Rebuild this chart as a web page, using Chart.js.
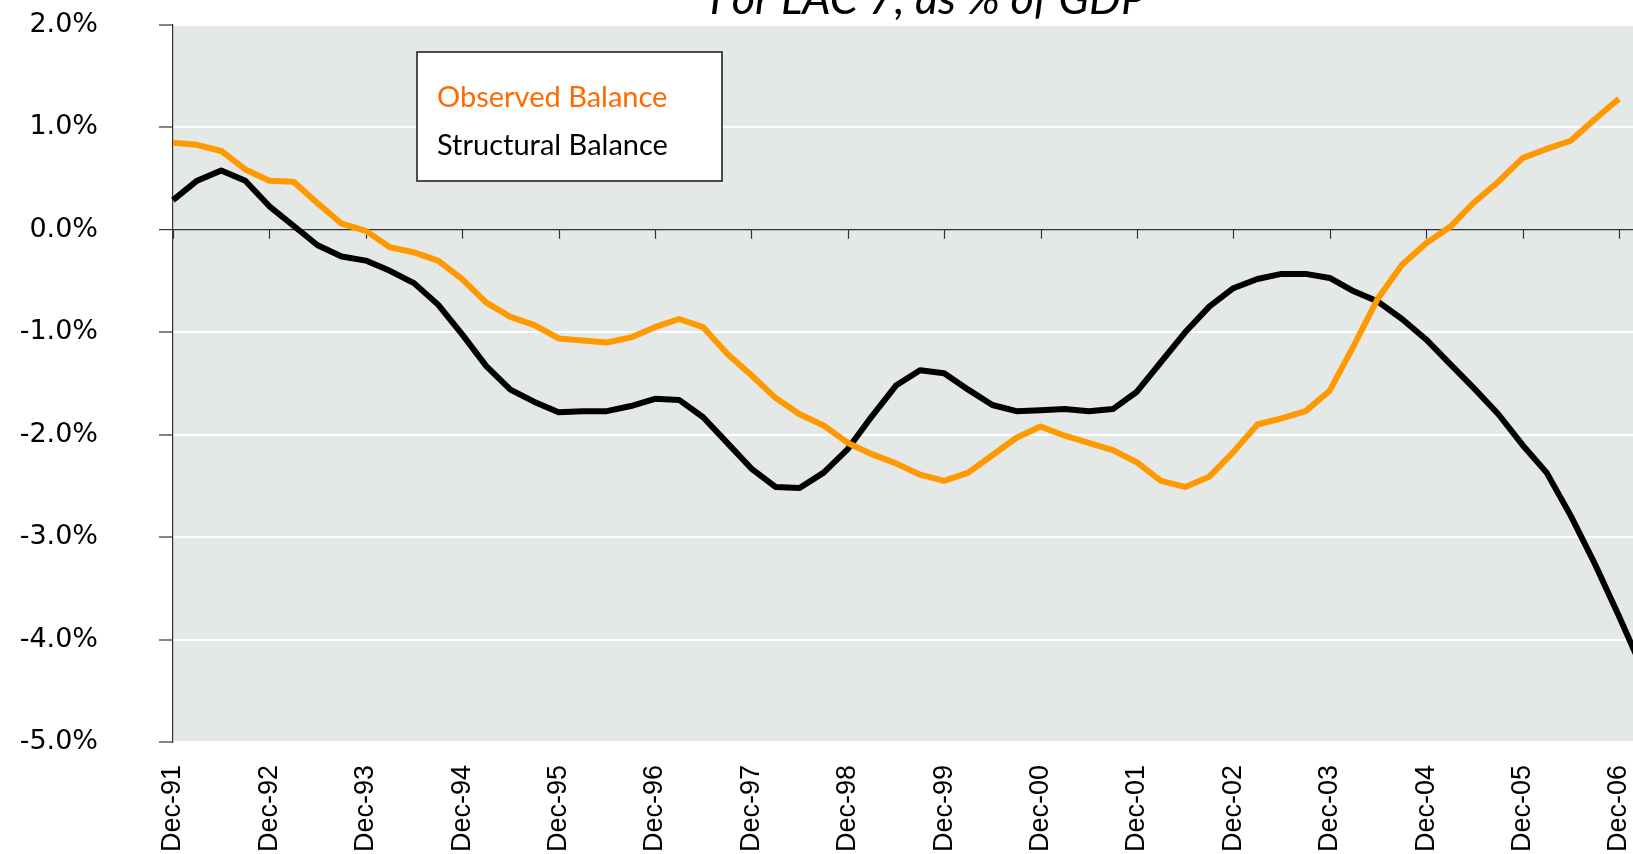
<!DOCTYPE html>
<html>
<head>
<meta charset="utf-8">
<script src="https://cdn.jsdelivr.net/npm/chart.js@4/dist/chart.umd.min.js"></script>
<style>
  html, body { margin: 0; padding: 0; background: #ffffff; overflow: hidden; width: 1633px; height: 854px; }
  #wrap { position: absolute; left: 0; top: 0; width: 1643px; height: 854px; }
</style>
</head>
<body>
<div id="wrap"><canvas id="c"></canvas></div>
<script>
// ---- data ----
const quarters = ['Dec-91','Mar-92','Jun-92','Sep-92','Dec-92','Mar-93','Jun-93','Sep-93','Dec-93','Mar-94','Jun-94','Sep-94','Dec-94','Mar-95','Jun-95','Sep-95','Dec-95','Mar-96','Jun-96','Sep-96','Dec-96','Mar-97','Jun-97','Sep-97','Dec-97','Mar-98','Jun-98','Sep-98','Dec-98','Mar-99','Jun-99','Sep-99','Dec-99','Mar-00','Jun-00','Sep-00','Dec-00','Mar-01','Jun-01','Sep-01','Dec-01','Mar-02','Jun-02','Sep-02','Dec-02','Mar-03','Jun-03','Sep-03','Dec-03','Mar-04','Jun-04','Sep-04','Dec-04','Mar-05','Jun-05','Sep-05','Dec-05','Mar-06','Jun-06','Sep-06','Dec-06','Mar-07'];

const observedBalance = [0.85,0.83,0.77,0.59,0.48,0.47,0.26,0.06,-0.01,-0.17,-0.22,-0.30,-0.48,-0.71,-0.85,-0.93,-1.06,-1.08,-1.10,-1.05,-0.95,-0.87,-0.95,-1.21,-1.42,-1.64,-1.80,-1.91,-2.08,-2.19,-2.28,-2.39,-2.45,-2.37,-2.20,-2.03,-1.92,-2.01,-2.08,-2.15,-2.27,-2.45,-2.51,-2.41,-2.17,-1.90,-1.84,-1.77,-1.57,-1.13,-0.67,-0.34,-0.13,0.03,0.27,0.47,0.70,0.79,0.87,1.08,1.28];

const structuralBalance = [0.29,0.48,0.58,0.48,0.23,0.04,-0.15,-0.26,-0.30,-0.40,-0.52,-0.73,-1.02,-1.33,-1.56,-1.68,-1.78,-1.77,-1.77,-1.72,-1.65,-1.66,-1.83,-2.08,-2.33,-2.51,-2.52,-2.37,-2.14,-1.82,-1.52,-1.37,-1.40,-1.56,-1.71,-1.77,-1.76,-1.75,-1.77,-1.75,-1.58,-1.29,-1.00,-0.75,-0.57,-0.48,-0.43,-0.43,-0.47,-0.60,-0.70,-0.87,-1.07,-1.31,-1.55,-1.80,-2.10,-2.37,-2.79,-3.26,-3.77,-4.30];

const yTickValues = [2, 1, 0, -1, -2, -3, -4, -5];
const seriesNames = ['Observed Balance', 'Structural Balance'];
const titleText = 'For LAC 7, as % of GDP';
const labelEvery = 4;

// ---- styles ----
const ORANGE_LINE = '#ff9900';
const ORANGE_TEXT = '#ff6a00';
const PLOT_BG = '#e4e8e6';

const plotBg = {
  id: 'plotBg',
  beforeDraw(chart) {
    const { ctx, chartArea: a } = chart;
    ctx.save();
    ctx.fillStyle = PLOT_BG;
    ctx.fillRect(a.left, a.top, a.right - a.left, a.bottom - a.top);
    ctx.restore();
  }
};

const zeroAxisTicks = {
  id: 'zeroAxisTicks',
  beforeDatasetsDraw(chart) {
    const { ctx } = chart;
    const xs = chart.scales.x, ys = chart.scales.y;
    const y0 = ys.getPixelForValue(0);
    ctx.save();
    ctx.strokeStyle = '#333333';
    ctx.lineWidth = 1.2;
    ctx.beginPath();
    for (let i = 0; i < quarters.length; i += labelEvery) {
      const px = Math.round(xs.getPixelForValue(i)) + 0.5;
      ctx.moveTo(px, y0);
      ctx.lineTo(px, y0 + 9);
    }
    ctx.stroke();
    ctx.restore();
  }
};

const topTitle = {
  id: 'topTitle',
  afterDraw(chart) {
    const { ctx } = chart;
    ctx.save();
    ctx.font = 'italic 45px Lato';
    ctx.fillStyle = '#000000';
    ctx.textAlign = 'center';
    ctx.textBaseline = 'alphabetic';
    ctx.fillText(titleText, 928, 14);
    ctx.restore();
  }
};

const legendBox = {
  id: 'legendBox',
  afterDatasetsDraw(chart) {
    const { ctx } = chart;
    ctx.save();
    ctx.fillStyle = '#ffffff';
    ctx.fillRect(417, 52, 305, 129);
    ctx.strokeStyle = '#222222';
    ctx.lineWidth = 1.6;
    ctx.strokeRect(417, 52, 305, 129);
    ctx.font = '29px Lato';
    ctx.textAlign = 'left';
    ctx.textBaseline = 'alphabetic';
    ctx.fillStyle = ORANGE_TEXT;
    ctx.fillText(chart.data.datasets[0].label, 437, 107);
    ctx.fillStyle = '#000000';
    ctx.fillText(chart.data.datasets[1].label, 437, 155);
    ctx.restore();
  }
};

new Chart(document.getElementById('c'), {
  type: 'line',
  data: {
    labels: quarters,
    datasets: [
      {
        label: seriesNames[0],
        data: observedBalance,
        borderColor: ORANGE_LINE,
        borderWidth: 6,
        pointRadius: 0,
        tension: 0,
        fill: false,
        borderJoinStyle: 'round',
        borderCapStyle: 'butt'
      },
      {
        label: seriesNames[1],
        data: structuralBalance,
        borderColor: '#000000',
        borderWidth: 6,
        pointRadius: 0,
        tension: 0,
        fill: false,
        borderJoinStyle: 'round',
        borderCapStyle: 'butt'
      }
    ]
  },
  options: {
    responsive: true,
    maintainAspectRatio: false,
    animation: false,
    devicePixelRatio: 1,
    layout: { padding: { top: 25, bottom: 0, left: 0, right: 0 } },
    plugins: {
      legend: { display: false },
      title: { display: false },
      tooltip: { enabled: false }
    },
    scales: {
      x: {
        type: 'category',
        offset: false,
        grid: { display: false, drawTicks: false },
        border: { display: false },
        afterFit: (s) => { s.height = 112; s.paddingLeft = 0; s.paddingRight = 0; },
        ticks: {
          autoSkip: false,
          maxRotation: 90,
          minRotation: 90,
          padding: 23,
          color: '#000000',
          font: { family: 'Liberation Sans', size: 27 },
          callback: (v, i) => (i % labelEvery === 0 ? quarters[i] : '')
        }
      },
      y: {
        min: -5,
        max: 2,
        afterBuildTicks: (s) => { s.ticks = yTickValues.map(v => ({ value: v })); },
        afterFit: (s) => { s.width = 173; s.paddingTop = 0; s.paddingBottom = 0; },
        ticks: {
          color: '#000000',
          padding: 61,
          font: { family: 'DejaVu Sans', size: 27 },
          callback: (v) => Number(v).toFixed(1) + '%'
        },
        grid: {
          color: (c) => (c.tick && c.tick.value === 0 ? '#333333' : '#ffffff'),
          lineWidth: (c) => (c.tick && c.tick.value === 0 ? 1.2 : 2),
          drawTicks: true,
          tickLength: 14,
          tickColor: '#333333',
          tickWidth: 1.2
        },
        border: { display: true, color: '#333333', width: 1.2 }
      }
    }
  },
  plugins: [plotBg, zeroAxisTicks, legendBox, topTitle]
});
</script>
</body>
</html>
